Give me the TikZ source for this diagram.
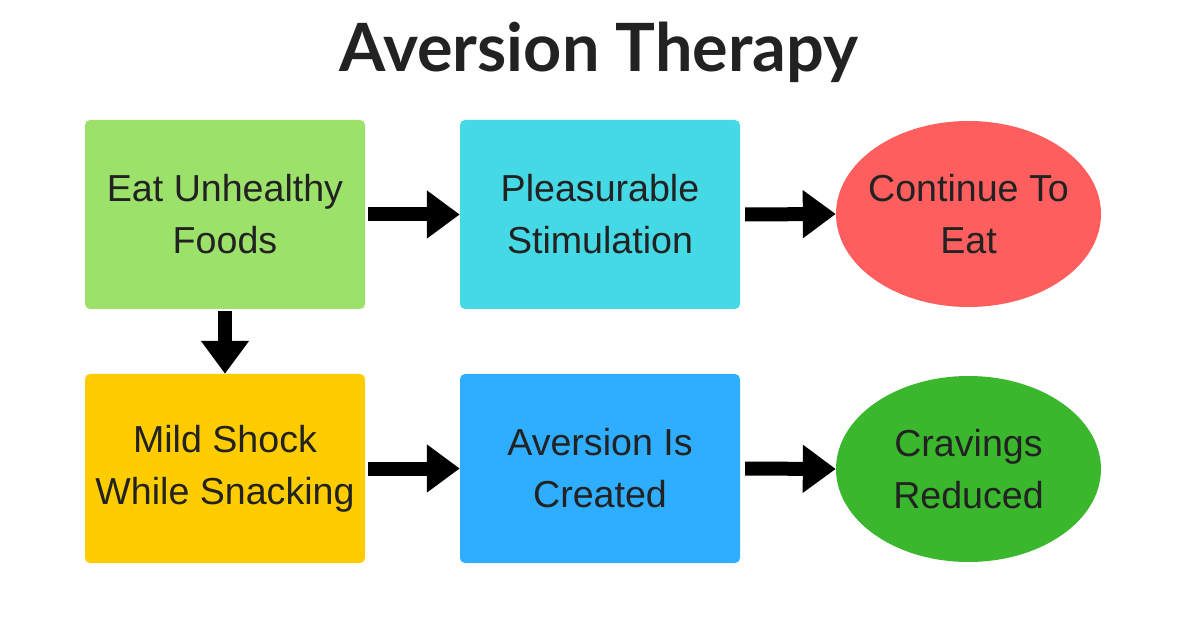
\documentclass[tikz,border=0pt]{standalone}
\usepackage{fontspec}
\setmainfont{Liberation Sans}
\newfontfamily\titlefont{Lato}
\usetikzlibrary{arrows.meta,shapes.geometric}
\definecolor{txt}{HTML}{222222}
\definecolor{cgreen}{HTML}{9CE26A}
\definecolor{ccyan}{HTML}{45D9E6}
\definecolor{cred}{HTML}{FF5E5E}
\definecolor{cyellow}{HTML}{FFCC00}
\definecolor{cblue}{HTML}{2FAEFF}
\definecolor{cdgreen}{HTML}{3BB72E}
\tikzset{
  boxnode/.style={rectangle, rounded corners=5pt, minimum width=280pt, minimum height=189pt, inner sep=0pt, align=center, text=txt, font=\fontsize{37.6}{52}\selectfont},
  ellnode/.style={ellipse, minimum width=265pt, minimum height=186pt, inner xsep=-30pt, inner ysep=0pt, align=center, text=txt, font=\fontsize{37.6}{52}\selectfont},
  bigarrow/.style={line width=14pt, draw=black, -{Triangle[width=46pt,length=33pt]}}
}
\begin{document}
\begin{tikzpicture}[x=1pt,y=-1pt]
\useasboundingbox (0,0) rectangle (1200,628);
\node[text=txt, font=\titlefont\bfseries\fontsize{66.6}{78}\selectfont] (title) at (599,52) {Aversion Therapy};
\node[boxnode, fill=cgreen] (a) at (225,214.5) {Eat Unhealthy\\Foods};
\node[boxnode, fill=ccyan] (b) at (600,214.5) {Pleasurable\\Stimulation};
\node[ellnode, fill=cred] (c) at (968.5,214) {Continue To\\Eat};
\node[boxnode, fill=cyellow] (d) at (225,468.5) {Mild Shock\\While Snacking};
\node[boxnode, fill=cblue] (e) at (600,468.5) {Aversion Is\\Created};
\node[ellnode, fill=cdgreen] (f) at (968.5,469) {Cravings\\Reduced};
\draw[bigarrow, shorten <=3pt] (a.east) -- (b.west);
\draw[bigarrow, shorten <=5pt] (b.east) -- (c.west);
\draw[bigarrow, shorten <=2pt] (a.south) -- (d.north);
\draw[bigarrow, shorten <=3pt] (d.east) -- (e.west);
\draw[bigarrow, shorten <=5pt] (e.east) -- (f.west);
\end{tikzpicture}
\end{document}
